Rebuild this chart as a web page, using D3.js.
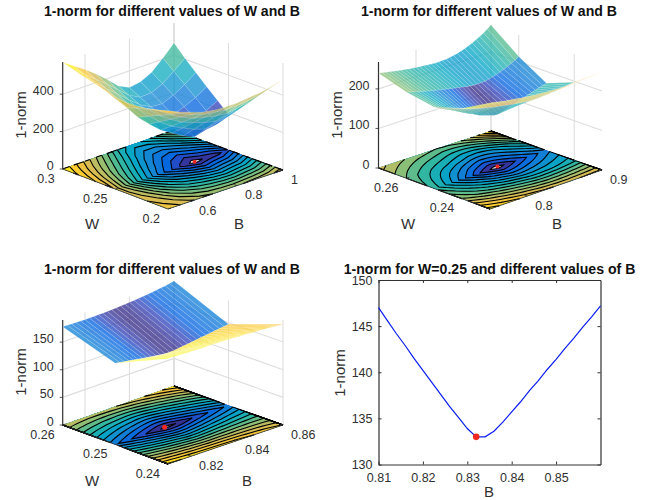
<!DOCTYPE html>
<html>
<head>
<meta charset="utf-8">
<title>1-norm surfaces</title>
<script src="https://cdn.jsdelivr.net/npm/d3@7"></script>
<style>
    body { margin: 0; background: #fff; }
    svg { display: block; }
    text { font-family: "Liberation Sans", Arial, sans-serif; fill: #303030; }
    .title { font-size: 14.1px; font-weight: bold; fill: #111; text-anchor: middle; }
    .tick { font-size: 12.5px; }
    .label { font-size: 15px; text-anchor: middle; }
</style>
</head>
<body>
<script>
// Panel 1 values, rows go with w1, columns with b1
var w1 = [0.20, 0.21, 0.22, 0.23, 0.24, 0.25, 0.26, 0.27, 0.28, 0.29, 0.30];
var b1 = [0.50, 0.55, 0.60, 0.65, 0.70, 0.75, 0.80, 0.85, 0.90, 0.95, 1.00];
var z1 = [
    [513, 497, 476, 455, 444, 441, 441, 449, 455, 465, 487],
    [505, 481, 449, 421, 402, 392, 385, 386, 394, 404, 428],
    [495, 465, 422, 387, 359, 343, 329, 323, 333, 343, 369],
    [488, 448, 396, 353, 317, 294, 273, 260, 272, 282, 310],
    [484, 432, 369, 319, 274, 244, 216, 196, 211, 221, 250],
    [490, 415, 342, 285, 232, 195, 160, 133, 150, 160, 190],
    [510, 438, 372, 317, 265, 224, 190, 170, 190, 209, 243],
    [522, 461, 401, 349, 297, 253, 220, 208, 230, 258, 296],
    [537, 484, 431, 381, 330, 282, 250, 245, 270, 307, 350],
    [553, 507, 460, 413, 362, 311, 280, 283, 310, 356, 405],
    [570, 530, 490, 445, 395, 340, 310, 320, 350, 405, 465]
];
var levels1 = [145, 170, 195, 220, 245, 270, 295, 320, 345, 370, 395, 420, 445, 470, 495, 520, 545];
var wTicks1 = [0.2, 0.25, 0.3], wLabels1 = ["0.2", "0.25", "0.3"];
var bTicks1 = [0.6, 0.8, 1], bLabels1 = ["0.6", "0.8", "1"];
var zTicks1 = [0, 200, 400];

// Panel 2 values
var w2 = [0.23, 0.24, 0.25, 0.26, 0.27];
var b2 = [0.750, 0.755, 0.760, 0.765, 0.770, 0.775, 0.780, 0.785, 0.790, 0.795, 0.800, 0.805, 0.810, 0.815, 0.820, 0.825,
          0.830, 0.835, 0.840, 0.845, 0.850, 0.855, 0.860, 0.865, 0.870, 0.875, 0.880, 0.885, 0.890, 0.895, 0.900];
var z2 = [
    [268, 266, 264, 262, 260, 258.5, 257, 255.5, 254, 252.5, 251, 250, 249, 248, 247, 246, 245.5, 245, 244.5, 244, 244, 244, 244, 244.5, 245, 245, 245.5, 246, 246.5, 247, 248],
    [228, 225, 222, 219, 216, 213.5, 211, 208.5, 206, 204, 202, 200, 198, 196, 194.5, 193, 191.5, 190, 189, 188.5, 188.5, 189, 189.5, 190, 190.5, 191.5, 192.5, 193.5, 194.5, 196, 197],
    [206, 201, 196, 191, 186, 181, 176, 171, 166, 161, 157, 152, 147, 143.5, 140.2, 137, 133.9, 133.2, 135.7, 138.5, 141.4, 144.3, 147.2, 150.2, 153.2, 156.2, 159.2, 162, 165, 167.5, 170],
    [218, 215, 212, 209, 206.5, 204, 201.5, 199, 197, 195, 193, 191, 189, 187, 185, 183, 181, 179.5, 178.5, 178, 178, 179, 180.5, 183, 186, 189.5, 193, 197, 202, 207, 213],
    [240, 238, 236, 234, 232, 230, 228.5, 227, 225.5, 224, 223, 222, 221, 220, 219, 218, 218, 218.5, 219, 220, 222, 224, 227, 230, 234, 238, 243, 248, 254, 261, 268]
];
var levels2 = [137, 146, 155, 164, 173, 182, 191, 200, 209, 218, 227, 236, 245, 254, 263];
var wTicks2 = [0.24, 0.26], wLabels2 = ["0.24", "0.26"];
var bTicks2 = [0.8, 0.9], bLabels2 = ["0.8", "0.9"];
var zTicks2 = [0, 100, 200];

// Panel 3 values, the middle row is the curve of panel 4
var w3 = [0.24, 0.25, 0.26];
var b3 = [0.810, 0.812, 0.814, 0.816, 0.818, 0.820, 0.822, 0.824, 0.826, 0.828, 0.830, 0.832, 0.834,
          0.836, 0.838, 0.840, 0.842, 0.844, 0.846, 0.848, 0.850, 0.852, 0.854, 0.856, 0.858, 0.860];
var curve = [147.0, 145.6, 144.2, 142.9, 141.5, 140.2, 138.9, 137.6, 136.3, 135.1, 133.9, 133.0, 133.0,
             133.6, 134.6, 135.7, 136.8, 138.0, 139.1, 140.3, 141.4, 142.6, 143.7, 144.9, 146.0, 147.2];
var z3 = [
    [191.0, 190.6, 190.3, 190.0, 189.7, 189.4, 189.2, 189.0, 188.9, 188.8, 188.7, 188.6, 188.5,
     188.3, 188.0, 187.6, 187.2, 186.8, 186.3, 185.9, 185.4, 184.9, 184.4, 183.7, 183.0, 182.3],
    curve,
    [178.0, 177.6, 177.2, 176.9, 176.7, 176.5, 176.5, 176.6, 176.8, 177.0, 177.3, 177.6, 178.0,
     178.5, 179.0, 179.6, 180.2, 180.9, 181.7, 182.6, 183.5, 184.5, 185.6, 186.8, 188.2, 189.8]
];
var levels3 = [134, 138, 142, 146, 150, 154, 158, 162, 166, 170, 174, 178, 182, 186, 190];
var wTicks3 = [0.24, 0.25, 0.26], wLabels3 = ["0.24", "0.25", "0.26"];
var bTicks3 = [0.82, 0.84, 0.86], bLabels3 = ["0.82", "0.84", "0.86"];
var zTicks3 = [0, 50, 100, 150];

// Panel 4 ticks and best point
var xTicks4 = [0.81, 0.82, 0.83, 0.84, 0.85];
var yTicks4 = [130, 135, 140, 145, 150];
var bestB = [0.85, 0.8355, 0.832];
var bestW = [0.25, 0.2503, 0.2501];
var bestZ = 133;

var titleSurface = "1-norm for different values of W and B";
var titleCurve = "1-norm for W=0.25 and different values of B";

// parula colormap
var parula = d3.scaleLinear()
    .domain([0, 0.0625, 0.125, 0.25, 0.375, 0.5, 0.625, 0.75, 0.875, 1])
    .range(["#352a87", "#3243ba", "#0363e1", "#1485d4", "#06a7c6", "#33b7a0", "#87bf77", "#d1bb59", "#fec832", "#f9fb0e"]);

var svg = d3.select("body").append("svg")
    .attr("width", 645)
    .attr("height", 500);

drawSurface({ w: w1, b: b1, z: z1, levels: levels1, wTicks: wTicks1, wLabels: wLabels1, bTicks: bTicks1, bLabels: bLabels1, zTicks: zTicks1,
    front: [168, 209], left: [62.7, 169], right: [283, 170], back: [174, 130], zTop: 572, zHeight: 107,
    titleX: 172, titleY: 16, wLabel: [92, 228.5], bLabel: [239, 229], zLabel: [21, 115], best: 0, r: 2 });
drawSurface({ w: w2, b: b2, z: z2, levels: levels2, wTicks: wTicks2, wLabels: wLabels2, bTicks: bTicks2, bLabels: bLabels2, zTicks: zTicks2,
    front: [490, 209], left: [378.5, 168], right: [602, 170], back: [491, 131], zTop: 268, zHeight: 106,
    titleX: 489, titleY: 16, wLabel: [408, 228.5], bLabel: [557, 229], zLabel: [337, 115], best: 1, r: 2 });
drawSurface({ w: w3, b: b3, z: z3, levels: levels3, wTicks: wTicks3, wLabels: wLabels3, bTicks: bTicks3, bLabels: bLabels3, zTicks: zTicks3,
    front: [168, 464], left: [62.7, 425], right: [283, 425], back: [174, 386], zTop: 190, zHeight: 105,
    titleX: 172, titleY: 274, wLabel: [92, 485.5], bLabel: [247, 486], zLabel: [21, 372], best: 2, r: 2.5 });
drawCurve();

// 3-D panel: surface over a contour floor, floor corners are measured in pixels
function drawSurface(p) {
    var g = svg.append("g");
    var uScale = d3.scaleLinear().domain(d3.extent(p.w)).range([0, 1]);
    var vScale = d3.scaleLinear().domain(d3.extent(p.b)).range([0, 1]);
    var hScale = d3.scaleLinear().domain([0, p.zTop]).range([0, p.zHeight]);
    var allZ = p.z.flat();
    var colour = d3.scaleLinear().domain(d3.extent(allZ)).range([0, 1]);

    function floorPoint(u, v) {
        return [
            (1 - u) * (1 - v) * p.front[0] + u * (1 - v) * p.left[0] + (1 - u) * v * p.right[0] + u * v * p.back[0],
            (1 - u) * (1 - v) * p.front[1] + u * (1 - v) * p.left[1] + (1 - u) * v * p.right[1] + u * v * p.back[1]
        ];
    }
    function project(w, b, z) {
        var pt = floorPoint(uScale(w), vScale(b));
        return [pt[0], pt[1] - hScale(z)];
    }
    // d3.contours coordinates -> floor pixels
    var nW = p.w.length, nB = p.b.length;
    function gridPoint(x, y) {
        var u = Math.max(0, Math.min(1, (y - 0.5) / (nW - 1)));
        var v = Math.max(0, Math.min(1, (x - 0.5) / (nB - 1)));
        return floorPoint(u, v);
    }

    // wall grid
    var wall = g.append("g").attr("fill", "none").attr("stroke", "#dedede").attr("stroke-width", 1.1);
    var bMin = p.b[0], bMax = p.b[nB - 1], wMin = p.w[0], wMax = p.w[nW - 1];
    p.bTicks.forEach(function(t) {
        var a = project(wMax, t, 0), c = project(wMax, t, p.zTop);
        wall.append("line").attr("x1", a[0]).attr("y1", a[1]).attr("x2", c[0]).attr("y2", c[1]);
    });
    p.wTicks.concat([wMax]).forEach(function(t) {
        var a = project(t, bMax, 0), c = project(t, bMax, p.zTop);
        wall.append("line").attr("x1", a[0]).attr("y1", a[1]).attr("x2", c[0]).attr("y2", c[1]);
    });
    p.zTicks.forEach(function(t) {
        wall.append("path").attr("d", d3.line()([project(wMax, bMin, t), project(wMax, bMax, t), project(wMin, bMax, t)]));
    });

    // floor: filled bands, then contour lines
    var bands = d3.contours().size([nB, nW]).thresholds(p.levels)(allZ);
    var floorPath = d3.geoPath(d3.geoTransform({
        point: function(x, y) {
            var pt = gridPoint(x, y);
            this.stream.point(pt[0], pt[1]);
        }
    }));
    g.append("g").selectAll("path")
        .data(bands)
        .enter()
        .append("path")
        .attr("d", floorPath)
        .attr("fill", function(d) { return parula(colour(d.value)); });

    function onEdge(a, b) {
        return (a[0] === 0 && b[0] === 0) || (a[0] === nB && b[0] === nB) || (a[1] === 0 && b[1] === 0) || (a[1] === nW && b[1] === nW);
    }
    g.append("g").selectAll("path")
        .data(bands)
        .enter()
        .append("path")
        .attr("fill", "none")
        .attr("stroke", "#000")
        .attr("stroke-width", 1.1)
        .attr("d", function(d) {
            var path = d3.path();
            d.coordinates.forEach(function(poly) {
                poly.forEach(function(ring) {
                    var moved = false;
                    for (var i = 1; i < ring.length; i++) {
                        if (onEdge(ring[i - 1], ring[i])) { moved = false; continue; }
                        var a = gridPoint(ring[i - 1][0], ring[i - 1][1]), c = gridPoint(ring[i][0], ring[i][1]);
                        if (!moved) { path.moveTo(a[0], a[1]); moved = true; }
                        path.lineTo(c[0], c[1]);
                    }
                });
            });
            return path.toString();
        });

    // axes
    var axes = g.append("g").attr("fill", "none").attr("stroke", "#303030").attr("stroke-width", 0.8);
    axes.append("path").attr("d", d3.line()([project(wMax, bMin, 0), project(wMin, bMin, 0), project(wMin, bMax, 0)]));
    axes.append("path").attr("stroke-width", 1.2).attr("d", d3.line()([project(wMax, bMin, 0), project(wMax, bMin, p.zTop)]));
    p.zTicks.forEach(function(t) {
        var a = project(wMax, bMin, t);
        axes.append("line").attr("x1", a[0] - 3).attr("y1", a[1]).attr("x2", a[0]).attr("y2", a[1]);
        g.append("text").attr("class", "tick").attr("text-anchor", "end")
            .attr("x", a[0] - 9).attr("y", a[1] + 1).text(t);
    });
    p.wTicks.forEach(function(t, i) {
        var a = project(t, bMin, 0);
        axes.append("line").attr("x1", a[0]).attr("y1", a[1]).attr("x2", a[0] + 3).attr("y2", a[1] - 1);
        g.append("text").attr("class", "tick").attr("text-anchor", "end")
            .attr("x", a[0] - 8).attr("y", a[1] + 13.5).text(p.wLabels[i]);
    });
    p.bTicks.forEach(function(t, i) {
        var a = project(wMin, t, 0);
        axes.append("line").attr("x1", a[0]).attr("y1", a[1]).attr("x2", a[0] - 3).attr("y2", a[1] - 1);
        g.append("text").attr("class", "tick").attr("text-anchor", "start")
            .attr("x", a[0] + 8).attr("y", a[1] + 13.5).text(p.bLabels[i]);
    });

    // best point on the floor
    var best = project(bestW[p.best], bestB[p.best], 0);
    g.append("circle").attr("cx", best[0]).attr("cy", best[1]).attr("r", p.r).attr("fill", "#f0281e");

    // surface, painted from the back corner to the front one, flat colour taken from the lowest corner
    var cells = g.append("g");
    for (var i = nW - 2; i >= 0; i--) {
        for (var j = nB - 2; j >= 0; j--) {
            var quad = [
                project(p.w[i], p.b[j], p.z[i][j]),
                project(p.w[i + 1], p.b[j], p.z[i + 1][j]),
                project(p.w[i + 1], p.b[j + 1], p.z[i + 1][j + 1]),
                project(p.w[i], p.b[j + 1], p.z[i][j + 1])
            ];
            cells.append("path")
                .attr("d", d3.line()(quad) + "Z")
                .attr("fill", parula(colour(p.z[i][j])))
                .attr("fill-opacity", 0.76)
                .attr("stroke", "#fff")
                .attr("stroke-opacity", 0.28)
                .attr("stroke-width", 0.5);
        }
    }

    g.append("text").attr("class", "title").attr("x", p.titleX).attr("y", p.titleY).text(titleSurface);
    g.append("text").attr("class", "label").attr("x", p.wLabel[0]).attr("y", p.wLabel[1]).text("W");
    g.append("text").attr("class", "label").attr("x", p.bLabel[0]).attr("y", p.bLabel[1]).text("B");
    g.append("text").attr("class", "label")
        .attr("transform", "translate(" + (p.zLabel[0] + 5) + "," + p.zLabel[1] + ") rotate(-90)")
        .text("1-norm");
}

// 2-D panel: W=0.25 slice
function drawCurve() {
    var left = 378.5, right = 600.5, top = 280, bottom = 464.5;
    var x = d3.scaleLinear().domain([0.81, 0.86]).range([left, right]);
    var y = d3.scaleLinear().domain([130, 150]).range([bottom, top]);
    var g = svg.append("g");

    function styleAxis(a) {
        a.selectAll("path,line").attr("stroke", "#303030");
        a.selectAll("path").attr("stroke-width", 1.2);
        a.selectAll("text").attr("class", "tick").attr("fill", null);
        a.attr("font-family", null).attr("font-size", null);
    }
    g.append("g").attr("transform", "translate(0," + bottom + ")")
        .call(d3.axisBottom(x).tickValues(xTicks4).tickFormat(d3.format(".2f")).tickSizeInner(-3).tickSizeOuter(0).tickPadding(9))
        .call(styleAxis);
    g.append("g").attr("transform", "translate(0," + top + ")")
        .call(d3.axisTop(x).tickValues(xTicks4).tickFormat("").tickSizeInner(-3).tickSizeOuter(0))
        .call(styleAxis);
    g.append("g").attr("transform", "translate(" + left + ",0)")
        .call(d3.axisLeft(y).tickValues(yTicks4).tickSizeInner(-3).tickSizeOuter(0).tickPadding(6))
        .call(styleAxis);
    g.append("g").attr("transform", "translate(" + right + ",0)")
        .call(d3.axisRight(y).tickValues(yTicks4).tickFormat("").tickSizeInner(-3).tickSizeOuter(0))
        .call(styleAxis);

    var line = d3.line()
        .x(function(d, i) { return x(b3[i]); })
        .y(function(d) { return y(d); });
    g.append("path").datum(curve)
        .attr("d", line)
        .attr("fill", "none")
        .attr("stroke", "#0a1ef0")
        .attr("stroke-width", 1.2);
    g.append("circle").attr("cx", x(bestB[2])).attr("cy", y(bestZ)).attr("r", 3.3).attr("fill", "#f0281e");

    g.append("text").attr("class", "title").attr("x", 489.5).attr("y", 274).text(titleCurve);
    g.append("text").attr("class", "label").attr("x", 489).attr("y", 497).text("B");
    g.append("text").attr("class", "label")
        .attr("transform", "translate(345,373) rotate(-90)")
        .text("1-norm");
}
</script>
</body>
</html>
